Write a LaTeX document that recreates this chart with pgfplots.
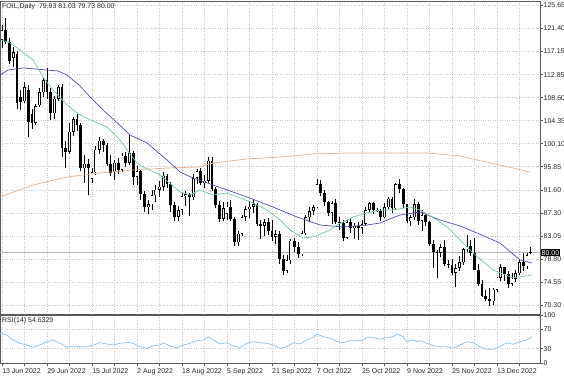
\documentclass[border=0pt]{standalone}
\usepackage{pgfplots}
\pgfplotsset{compat=1.18}
\usepackage{pgfplotstable}
\usepackage{fontspec}
\setmainfont{Liberation Sans}
\definecolor{gridc}{RGB}{200,200,200}
\definecolor{maG}{RGB}{120,195,160}
\definecolor{maB}{RGB}{80,80,165}
\definecolor{maT}{RGB}{228,178,140}
\definecolor{rsiC}{RGB}{140,190,225}
\definecolor{framec}{RGB}{90,90,90}

\pgfplotstableread{
i o h l c
0 119.3 122.0 117.8 121.0
1 121.0 123.3 118.5 118.9
2 118.9 119.6 114.8 115.3
3 115.9 118.0 114.3 117.0
4 116.6 117.3 106.5 107.6
5 108.7 110.0 106.3 107.8
6 107.9 111.5 107.6 110.6
7 110.0 110.9 101.3 104.1
8 105.6 106.6 102.9 104.0
9 104.0 107.5 103.6 107.0
10 107.2 110.4 106.9 109.6
11 109.6 112.3 108.7 111.8
12 111.8 114.0 108.4 109.7
13 109.7 110.3 104.5 105.7
14 105.7 108.9 104.6 108.4
15 108.4 111.0 107.9 110.6
16 110.6 111.2 97.7 99.3
17 99.3 100.6 95.6 98.6
18 98.6 103.9 98.3 102.3
19 102.3 105.0 101.5 104.6
20 104.6 105.6 102.5 103.5
21 103.5 104.0 95.0 95.6
22 95.6 98.0 92.9 96.4
23 96.4 97.2 90.6 95.6
24 93.6 95.7 92.8 94.8
25 94.8 99.6 94.4 99.0
26 99.0 101.3 98.2 100.7
27 100.7 101.0 98.6 99.8
28 99.8 100.3 96.0 96.4
29 96.4 98.0 94.1 94.7
30 94.8 97.1 93.5 96.6
31 96.6 97.4 94.6 95.3
32 95.3 98.4 94.9 97.9
33 97.9 98.6 95.8 96.6
34 96.6 101.7 96.2 98.4
35 98.4 98.7 92.5 94.0
36 94.0 96.0 92.4 95.0
37 95.0 95.3 89.8 90.8
38 90.8 91.3 87.6 88.4
39 88.4 89.8 87.1 88.9
40 88.9 91.5 87.8 90.6
41 90.6 92.5 89.4 91.6
42 91.6 93.2 90.2 92.2
43 92.2 94.9 91.4 94.2
44 94.2 94.5 91.9 92.7
45 92.7 93.0 87.6 88.8
46 88.8 89.3 85.9 86.6
47 86.6 88.7 85.8 87.9
48 87.9 91.0 87.0 90.4
49 90.4 91.3 88.6 90.8
50 90.8 91.0 86.7 90.2
51 90.2 94.5 89.8 93.8
52 93.8 95.5 92.6 95.0
53 95.0 95.6 92.4 92.8
54 92.8 94.4 92.0 93.3
55 93.3 97.6 92.9 97.0
56 97.0 97.6 91.3 91.8
57 91.8 92.2 88.2 88.8
58 88.8 89.6 85.6 86.3
59 86.3 89.4 85.8 88.2
60 87.2 89.4 86.0 88.5
61 88.5 89.8 85.8 86.2
62 86.2 86.6 81.2 81.9
63 81.9 84.0 81.2 83.5
64 83.5 87.0 83.1 86.6
65 86.6 88.6 85.9 88.0
66 88.0 89.6 86.4 88.5
67 88.5 89.7 87.4 88.9
68 88.9 89.2 84.9 85.3
69 85.3 86.0 82.5 85.0
70 85.0 86.2 83.0 85.6
71 85.6 86.4 83.3 84.0
72 84.0 86.1 82.2 82.9
73 82.9 84.2 81.6 83.4
74 83.4 84.0 77.9 78.8
75 78.8 79.6 75.9 76.7
76 76.7 79.5 76.3 78.6
77 78.6 82.6 78.0 82.2
78 82.2 82.8 80.2 81.1
79 81.1 82.0 79.1 79.7
80 79.7 84.0 79.3 83.6
81 83.6 86.9 83.2 86.5
82 86.5 88.4 85.6 87.7
83 87.7 88.8 86.9 88.4
84 88.4 93.6 88.2 92.6
85 92.6 93.4 90.4 91.1
86 91.1 91.6 88.6 89.3
87 89.3 89.6 86.8 87.3
88 87.3 89.6 85.3 89.1
89 89.1 90.0 85.3 85.6
90 85.6 86.6 84.2 85.5
91 85.5 86.0 82.1 82.8
92 82.8 86.0 82.5 85.6
93 85.6 86.4 83.7 84.5
94 84.5 85.4 82.5 85.0
95 85.0 85.6 82.4 84.6
96 84.6 86.0 83.5 85.3
97 85.3 88.4 84.9 87.9
98 87.9 89.4 87.5 89.1
99 89.1 89.3 87.1 87.9
100 87.9 88.2 87.5 87.7
101 87.7 88.0 85.9 86.5
102 86.5 89.1 86.4 88.4
103 88.4 90.3 88.0 90.0
104 90.0 90.3 87.3 88.2
105 88.2 92.8 87.9 92.6
106 92.6 93.6 91.0 91.8
107 91.8 92.0 88.3 88.9
108 88.9 89.0 85.5 85.8
109 85.8 87.0 84.9 86.5
110 86.5 90.0 86.0 89.0
111 89.0 89.3 85.2 85.9
112 85.9 87.9 84.0 86.9
113 86.9 87.2 84.9 85.6
114 85.6 85.8 81.3 81.6
115 81.6 82.3 77.2 80.1
116 80.1 80.5 75.3 80.0
117 80.0 81.6 79.2 81.0
118 81.0 82.3 77.6 77.9
119 77.9 78.6 77.2 77.8
120 77.8 78.9 75.9 76.3
121 76.3 78.0 73.6 77.2
122 77.2 79.4 76.6 78.2
123 78.2 80.9 77.8 80.6
124 80.6 83.3 80.2 81.2
125 81.2 82.3 79.4 80.0
126 80.0 82.7 76.8 76.9
127 76.9 77.9 73.8 74.3
128 74.3 75.0 71.8 72.0
129 72.0 73.1 71.1 71.5
130 71.5 73.4 70.1 71.0
131 71.0 73.5 70.4 73.2
132 73.2 75.6 72.7 75.4
133 75.4 77.9 74.7 77.3
134 77.3 77.4 74.8 76.1
135 76.1 76.6 73.5 74.3
136 74.3 76.2 73.8 75.2
137 75.2 76.8 74.6 76.2
138 76.2 78.8 75.9 78.3
139 78.3 79.9 76.7 77.5
140 77.5 79.9 77.0 79.6
141 79.93 81.03 79.73 80.00
}\ohlc

\begin{document}
\begin{tikzpicture}
\path[use as bounding box] (0bp,0bp) rectangle (564bp,-376bp);
\begin{axis}[
  name=main, at={(0bp,-1bp)}, anchor=north west,
  width=540bp, height=313bp, scale only axis,
  xmin=-0.55, xmax=143.47, ymin=68.69, ymax=126.44,
  axis line style={framec, line width=0.8bp},
  xtick={0,6,...,138}, xticklabels={},
  major x tick style={draw=none},
  ytick={70.30,74.55,78.80,83.05,87.30,91.60,95.85,100.10,104.35,108.60,112.85,117.15,121.40,125.65},
  yticklabels={70.30,74.55,78.80,83.05,87.30,91.60,95.85,100.10,104.35,108.60,112.85,117.15,121.40,125.65},
  ytick pos=right, yticklabel pos=right, tick align=outside,
  major tick length=2.5bp, major y tick style={framec, line width=0.6bp},
  yticklabel style={anchor=west, inner sep=0.5bp, xshift=0.5bp, text=black!85},
  tick label style={font=\fontsize{7}{8}\selectfont},
  xmajorgrids, ymajorgrids,
  grid style={gridc, dotted, line width=0.6bp},
]
\addplot[black!30, line width=0.5bp, forget plot] coordinates {(-0.55,80.00) (143.47,80.00)};
% wicks
\addplot[draw=none, mark=none, forget plot,
  error bars/.cd, y dir=plus, y explicit, error mark=none,
  error bar style={line width=0.7bp, draw=black, solid}]
  table[x=i, y=l, y error plus expr=\thisrow{h}-\thisrow{l}] {\ohlc};
% bodies (outline / bear fill)
\addplot[draw=none, mark=none, forget plot,
  error bars/.cd, y dir=plus, y explicit, error mark=none,
  error bar style={line width=2.8bp, draw=black, solid}]
  table[x=i, y expr={min(\thisrow{o},\thisrow{c})}, y error plus expr={max(abs(\thisrow{c}-\thisrow{o}),0.12)}] {\ohlc};
% bull inner
\addplot[draw=none, mark=none, forget plot,
  error bars/.cd, y dir=plus, y explicit, error mark=none,
  error bar style={line width=1.5bp, draw=white, solid}]
  table[x=i, y expr={\thisrow{o}+0.12}, y error plus expr={(\thisrow{c}>\thisrow{o}) ? max(\thisrow{c}-\thisrow{o}-0.24,0) : 0}] {\ohlc};
% MA long
\addplot[maT, line width=0.7bp] coordinates {
(-0.53,90.28) (8.27,92.49) (17.33,93.97) (26.13,94.71) (34.93,95.26) (44,95.63) (52.8,95.82) (56.27,96.55) (65.33,97.29) (74.13,97.66) (82.93,98.21) (92,98.40) (100.8,98.40) (113.33,98.40) (122.13,97.85) (126.67,97.11) (132.8,96.18) (140.8,94.89)};
% MA mid
\addplot[maB, line width=0.7bp] coordinates {
(-0.53,112.79) (1.6,113.71) (5.6,114.08) (12,113.71) (14.93,113.53) (17.33,112.79) (20.8,110.76) (23.47,108.73) (26.93,106.33) (29.6,104.67) (34.13,101.72) (38.67,100.24) (44,97.11) (47.47,94.89) (50.93,93.79) (56.27,92.49) (65.33,90.28) (72.27,88.43) (78.67,86.59) (84.8,85.11) (90.93,84.74) (97.33,85.11) (100.8,85.48) (106.13,86.96) (111.47,87.51) (116.8,86.04) (122.13,84.93) (126.67,83.64) (132.8,81.79) (138.13,78.66) (141.33,78.10)};
% MA fast
\addplot[maG, line width=0.7bp] coordinates {
(0,119.25) (2.13,118.69) (4.8,117.40) (8.27,115.56) (10.93,112.42) (13.6,110.02) (17.33,107.26) (20.8,105.41) (24.27,104.30) (28,103.20) (31.47,100.80) (33.33,98.95) (36,96.55) (37.6,95.82) (42.13,94.34) (47.47,91.21) (50.13,90.65) (52.8,91.57) (56.27,90.65) (60,91.02) (63.47,90.10) (66.93,89.17) (70.67,87.88) (74.13,86.04) (76.8,84.19) (80.27,82.72) (82.93,82.90) (87.47,84.19) (89.33,85.11) (93.6,86.59) (97.33,87.33) (100.8,87.88) (104.27,87.88) (108.8,88.43) (111.47,87.88) (116,86.04) (118.67,84.74) (122.13,82.35) (125.6,79.95) (130.93,76.81) (136.27,75.34) (141.33,75.89)};
\coordinate (bid) at (axis cs:143.47,80.00);
\node[anchor=north west, inner sep=0pt, font=\fontsize{7}{8}\selectfont, text=black!85] at (rel axis cs:0,1) [xshift=2bp, yshift=-2.5bp] {FOIL,Daily\ \ 79.93 81.03 79.73 80.00};
\end{axis}
\node[anchor=west, fill=black, text=white, inner sep=1bp, font=\fontsize{7}{8}\selectfont] at ([xshift=0.5bp]bid) {80.00};

\begin{axis}[
  name=rsi, at={(0bp,-315bp)}, anchor=north west,
  width=540bp, height=48bp, scale only axis,
  xmin=-0.55, xmax=143.47, ymin=0, ymax=100,
  axis line style={framec, line width=0.8bp},
  xtick={0,6,...,138},
  xticklabels={13 Jun 2022,,29 Jun 2022,,15 Jul 2022,,2 Aug 2022,,18 Aug 2022,,5 Sep 2022,,21 Sep 2022,,7 Oct 2022,,25 Oct 2022,,9 Nov 2022,,25 Nov 2022,,13 Dec 2022,},
  xticklabel style={anchor=north west, inner sep=0pt, yshift=-2.5bp, text=black!85},
  ytick={0,30,70,100}, yticklabels={0,30,70,100},
  ytick pos=right, yticklabel pos=right, xtick pos=bottom, tick align=outside,
  major tick length=2.5bp, major tick style={framec, line width=0.6bp},
  yticklabel style={anchor=west, inner sep=0.5bp, xshift=0.5bp, text=black!85},
  tick label style={font=\fontsize{7}{8}\selectfont},
  xmajorgrids, ymajorgrids,
  grid style={gridc, dotted, line width=0.6bp},
]
\addplot[rsiC, line width=0.7bp] coordinates {
(-0.53,61.8) (1.25,58.3) (3.01,47.9) (4.8,41) (6.59,37.5) (8.35,32.6) (10.13,37.5) (11.92,44.4) (13.68,47.9) (15.47,41) (17.25,32.6) (19.01,35.4) (20.8,34) (22.59,34) (24.35,37.5) (26.13,42.3) (27.92,39.6) (29.68,37.5) (31.47,41) (33.25,43.1) (35.01,41) (36.8,34) (38.59,30.6) (40.35,36.1) (42.13,37.5) (43.01,42.3) (44.8,35.4) (46.59,31.9) (48.35,37.5) (50.13,41) (51.92,46.5) (53.68,47.9) (55.01,54.8) (56.35,47.9) (58.13,39.6) (59.92,42.3) (61.68,35.4) (63.47,32.6) (65.25,41) (67.01,44.4) (68.8,42.3) (70.59,41) (72.35,37.5) (74.13,30.6) (75.92,34) (77.68,42.3) (79.47,39.6) (81.25,47.9) (83.01,53.5) (83.92,60.4) (85.68,54.8) (87.47,51.4) (88.35,49.3) (89.25,44.4) (91.01,42.3) (92.8,46.5) (94.59,46.5) (96.35,47.9) (97.25,53.5) (99.01,53.5) (100.8,49.3) (102.59,53.5) (104.35,54.8) (105.25,60.4) (107.01,54.8) (107.92,44.4) (109.68,47.9) (110.59,44.4) (111.47,46.5) (113.25,41) (115.01,36.1) (116.8,34) (118.59,34) (120.35,30.6) (122.13,37.5) (123.92,44.4) (125.68,42.3) (127.47,34) (129.25,28.5) (131.01,28.5) (132.8,34) (134.59,42.3) (136.35,38.9) (138.13,44.4) (139.92,47.9) (141.33,54.6)};
\node[anchor=north west, inner sep=0pt, font=\fontsize{7}{8}\selectfont, text=black!85] at (rel axis cs:0,1) [xshift=2bp, yshift=-2.5bp] {RSI(14) 54.6329};
\end{axis}
\end{tikzpicture}
\end{document}
